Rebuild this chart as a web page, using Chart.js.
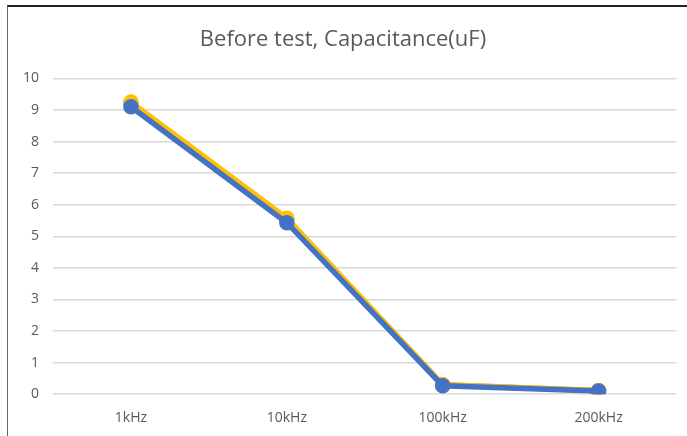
<!DOCTYPE html>
<html>
<head>
<meta charset="utf-8">
<script src="https://cdn.jsdelivr.net/npm/chart.js@4/dist/chart.umd.min.js"></script>
<style>
  body { margin: 0; background: #fff; }
  #wrap {
    position: absolute; left: 7px; top: 5px; width: 680px; height: 431px;
    border-top: 2px solid #222; border-left: 1px solid #666; box-sizing: border-box;
  }
  canvas { display: block; }
</style>
</head>
<body>
<div id="wrap"><canvas id="lineChart"></canvas></div>
<script>
var labels = ['1kHz', '10kHz', '100kHz', '200kHz'];
var blueVals = [9.10, 5.43, 0.27, 0.10];
var yellowVals = [9.25, 5.57, 0.30, 0.12];
var orangeVals = [9.22, 5.55, 0.30, 0.11];
var yTicks = [0, 1, 2, 3, 4, 5, 6, 7, 8, 9, 10];

var lineChart = document.getElementById('lineChart').getContext('2d');

function series(data, color) {
    return {
        data: data,
        borderColor: color,
        backgroundColor: color,
        borderWidth: 5.5,
        pointRadius: 5,
        pointHoverRadius: 5,
        tension: 0
    };
}

// first dataset is drawn on top, so blue goes first
new Chart(lineChart, {
    type: 'line',
    data: {
        labels: labels,
        datasets: [
            series(blueVals, '#4472C4'),
            series(yellowVals, '#FFC000'),
            series(orangeVals, '#ED7D31')
        ]
    },
    options: {
        responsive: true,
        maintainAspectRatio: false,
        animation: false,
        layout: {
            padding: { left: 0, right: 9, top: 0, bottom: 3 }
        },
        plugins: {
            legend: { display: false },
            tooltip: { enabled: false },
            title: {
                display: true,
                text: 'Before test, Capacitance(uF)',
                color: '#595959',
                font: { family: 'Open Sans', size: 22, weight: 'normal' },
                padding: { top: 20, bottom: 25 }
            }
        },
        scales: {
            x: {
                offset: true,
                grid: { display: false },
                border: { display: false },
                ticks: {
                    color: '#595959',
                    font: { family: 'Open Sans', size: 14 },
                    padding: 7
                }
            },
            y: {
                min: 0,
                max: 10,
                afterBuildTicks: function(scale) {
                    scale.ticks = yTicks.map(function(v) { return { value: v }; });
                },
                afterFit: function(scale) { scale.width = 45; },
                grid: { color: '#d9d9d9', lineWidth: 1.5, drawTicks: false },
                border: { display: false },
                ticks: {
                    color: '#595959',
                    font: { family: 'Open Sans', size: 14 },
                    padding: 14
                }
            }
        }
    }
});
</script>
</body>
</html>
